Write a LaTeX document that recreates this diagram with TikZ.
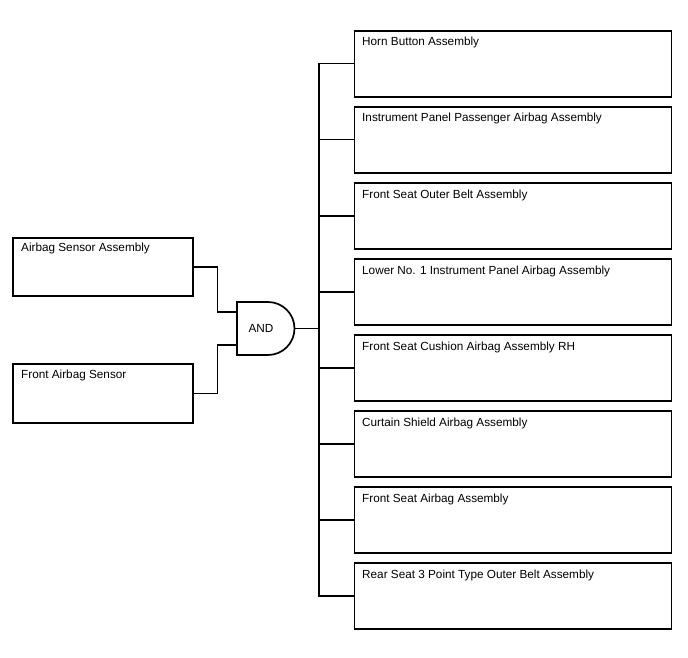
\documentclass[tikz,border=0pt]{standalone}
\usepackage{fontspec}
\setmainfont{Liberation Sans}
\usetikzlibrary{calc}
\begin{document}
\begin{tikzpicture}[x=1pt,y=-1pt,
  box/.style={draw=black, line width=1.7pt, rectangle, inner sep=0pt, anchor=north west},
  rbox/.style={box, minimum width=317pt, minimum height=66pt},
  lbox/.style={box, minimum width=180pt, minimum height=58pt},
  txt/.style={anchor=base west, inner sep=0pt, font=\fontsize{11.75}{13}\selectfont},
  conn/.style={draw=black, line width=1.3pt}]
\useasboundingbox (0,0) rectangle (688,658);
% left boxes
\node[lbox] (l1) at (12,237) {};
\node[txt] at ($(l1.north west)+(9,14.5)$) {Airbag Sensor Assembly};
\node[lbox, minimum height=59pt] (l2) at (12,363) {};
\node[txt] at ($(l2.north west)+(9,15)$) {Front Airbag Sensor};
% gate
\draw[line width=1.7pt] (237,302) -- (268,302) arc[start angle=90, end angle=-90, radius=26.5pt] -- (237,355) -- cycle;
\node[font=\fontsize{11.75}{13}\selectfont, inner sep=0pt] (andtxt) at (261,328) {AND};
\coordinate (gin1) at (237,312);
\coordinate (gin2) at (237,345);
\coordinate (gout) at (294.5,328.5);
\coordinate (bus) at (319,328.5);
% right boxes
\foreach \i/\t/\lab in {1/30/Horn Button Assembly,
  2/106/Instrument Panel Passenger Airbag Assembly,
  3/182/Front Seat Outer Belt Assembly,
  4/258/Lower No. 1 Instrument Panel Airbag Assembly,
  5/334/Front Seat Cushion Airbag Assembly RH,
  6/410/Curtain Shield Airbag Assembly,
  7/486/Front Seat Airbag Assembly,
  8/562/Rear Seat 3 Point Type Outer Belt Assembly} {
  \node[rbox] (r\i) at (353.5,\t) {};
  \node[txt] at ($(r\i.north west)+(8.5,16)$) {\lab};
}
% connectors
\draw[conn] (l1.east) -- ++(24,0) |- (gin1);
\draw[conn] (l2.east) -- ++(24,0) |- (gin2);
\draw[conn] (gout) -- (bus);
\foreach \i in {1,...,8} {
  \draw[conn] (r\i.west) -| (bus);
}
\end{tikzpicture}
\end{document}
